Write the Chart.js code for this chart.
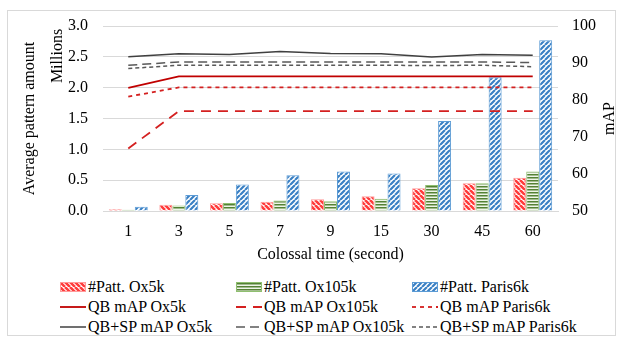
<!doctype html>
<html lang="en">
<head>
  <meta charset="utf-8">
  <title>Colossal time</title>
  <script src="https://cdn.jsdelivr.net/npm/chart.js"></script>
  <style>
    body { margin: 0; background: #fff; font-family: "Liberation Serif", "Times New Roman", serif; }
    #wrap { position: relative; width: 626px; height: 343px; }
    #frame { position: absolute; left: 7px; top: 10px; width: 607px; height: 324px; border: 1px solid #d9d9d9; }
    #chartBox { position: absolute; left: 0; top: 0; width: 626px; height: 272px; }
    .item { position: absolute; height: 20px; display: flex; align-items: center; font-size: 16px; color: #000; white-space: nowrap; }
    .item canvas { margin-right: 2px; }
  </style>
</head>
<body>
<div id="wrap">
  <div id="frame"></div>
  <div id="chartBox"><canvas id="chart"></canvas></div>
  <div id="legend"></div>
</div>

<script>
  // data
  const times = ['1', '3', '5', '7', '9', '15', '30', '45', '60'];
  // average pattern amount (millions)
  const pattOx5k = [0.03, 0.10, 0.125, 0.15, 0.19, 0.24, 0.37, 0.45, 0.54];
  const pattOx105k = [0.02, 0.09, 0.13, 0.17, 0.16, 0.20, 0.42, 0.45, 0.64];
  const pattParis6k = [0.07, 0.26, 0.43, 0.58, 0.64, 0.61, 1.46, 2.17, 2.77];
  // mAP
  const qbOx5k = [83.3, 86.4, 86.4, 86.4, 86.4, 86.4, 86.4, 86.4, 86.4];
  const qbOx105k = [66.9, 77.0, 77.0, 77.0, 77.0, 77.0, 77.0, 77.0, 77.0];
  const qbParis6k = [80.9, 83.4, 83.4, 83.4, 83.4, 83.4, 83.4, 83.4, 83.4];
  const spOx5k = [91.7, 92.5, 92.3, 93.1, 92.6, 92.5, 91.6, 92.3, 92.1];
  const spOx105k = [89.4, 90.3, 90.3, 90.3, 90.3, 90.3, 90.3, 90.3, 90.1];
  const spParis6k = [88.5, 89.4, 89.4, 89.4, 89.4, 89.4, 89.3, 89.4, 89.0];

  const FONT = '"Liberation Serif", "Times New Roman", serif';

  // hatch patterns for the bars
  function hatch(kind, fg, bg, lw) {
    const c = document.createElement('canvas');
    const n = kind === 'h' ? 3 : 5;
    c.width = n; c.height = n;
    const g = c.getContext('2d');
    g.fillStyle = bg;
    g.fillRect(0, 0, n, n);
    if (kind === 'h') {
      g.fillStyle = fg;
      g.fillRect(0, 0, n, 1.5);
    } else {
      g.strokeStyle = fg;
      g.lineWidth = lw;
      g.beginPath();
      for (let k = -1; k <= 1; k++) {
        if (kind === 'b') { // "\" stripes
          g.moveTo(k * n, 0); g.lineTo(k * n + n, n);
        } else {            // "/" stripes
          g.moveTo(k * n, n); g.lineTo(k * n + n, 0);
        }
      }
      g.stroke();
    }
    return document.createElement('canvas').getContext('2d').createPattern(c, 'repeat');
  }

  const redFill = hatch('b', '#ff3b3b', '#ffffff', 2.6);
  const greenFill = hatch('h', '#548235', '#eef5e8');
  const blueFill = hatch('f', '#3a80c4', '#ffffff', 2.2);

  function bar(label, data, fill, border) {
    return {
      type: 'bar', label: label, data: data, yAxisID: 'y', order: 2,
      backgroundColor: fill, borderColor: border, borderWidth: 1,
      categoryPercentage: 0.77, barPercentage: 1.0
    };
  }
  function line(label, data, color, dash, width) {
    return {
      type: 'line', label: label, data: data, yAxisID: 'y1', order: 1,
      borderColor: color, backgroundColor: color, borderDash: dash, borderWidth: width,
      pointRadius: 0, fill: false, tension: 0
    };
  }

  const datasets = [
    bar('#Patt. Ox5k', pattOx5k, redFill, '#ff9a9a'),
    bar('#Patt. Ox105k', pattOx105k, greenFill, '#8fbf6f'),
    bar('#Patt. Paris6k', pattParis6k, blueFill, '#5b9bd5'),
    line('QB mAP Ox5k', qbOx5k, '#c00000', [], 1.8),
    line('QB mAP Ox105k', qbOx105k, '#d42020', [10, 7], 1.8),
    line('QB mAP Paris6k', qbParis6k, '#d42020', [4, 4], 1.8),
    line('QB+SP mAP Ox5k', spOx5k, '#404040', [], 1.5),
    line('QB+SP mAP Ox105k', spOx105k, '#595959', [9, 5], 1.5),
    line('QB+SP mAP Paris6k', spParis6k, '#595959', [4, 3], 1.5)
  ];

  // side labels that Chart.js cannot place the same way
  const sideLabels = {
    id: 'sideLabels',
    afterDraw(chart) {
      const a = chart.chartArea;
      const ctx = chart.ctx;
      ctx.save();
      ctx.font = '16px ' + FONT;
      ctx.fillStyle = '#000';
      ctx.textAlign = 'center';
      ctx.textBaseline = 'middle';
      ctx.translate(a.left - 45, a.top + 30);
      ctx.rotate(-Math.PI / 2);
      ctx.fillText('Millions', 0, 0);
      ctx.restore();
      ctx.save();
      ctx.font = '16px ' + FONT;
      ctx.fillStyle = '#000';
      ctx.textAlign = 'center';
      ctx.textBaseline = 'middle';
      ctx.translate(a.right + 52, (a.top + a.bottom) / 2);
      ctx.rotate(-Math.PI / 2);
      ctx.fillText('mAP', 0, 0);
      ctx.restore();
    }
  };

  new Chart(document.getElementById('chart'), {
    data: { labels: times, datasets: datasets },
    options: {
      responsive: true,
      maintainAspectRatio: false,
      animation: false,
      layout: { padding: { top: 26, bottom: 5, left: 0, right: 0 } },
      plugins: { legend: { display: false }, tooltip: { enabled: false } },
      scales: {
        x: {
          grid: { display: false, drawTicks: false },
          border: { color: '#d9d9d9' },
          ticks: { color: '#000', font: { family: FONT, size: 16 }, padding: 11 },
          title: { display: true, text: 'Colossal time (second)', color: '#000', font: { family: FONT, size: 16 }, padding: { top: 0, bottom: 3 } },
          afterFit(s) { s.height = 56; }
        },
        y: {
          position: 'left', min: 0, max: 3,
          ticks: { stepSize: 0.5, color: '#000', font: { family: FONT, size: 16 }, padding: 15, callback: v => v.toFixed(1) },
          grid: { color: '#d9d9d9', drawTicks: false },
          border: { display: false },
          title: { display: true, text: 'Average pattern amount', color: '#000', font: { family: FONT, size: 16 }, padding: { top: 20, bottom: 0 } },
          afterFit(s) { s.width = 103; }
        },
        y1: {
          position: 'right', min: 50, max: 100,
          ticks: { stepSize: 10, color: '#000', font: { family: FONT, size: 16 }, padding: 14 },
          grid: { display: false, drawTicks: false },
          border: { display: false },
          afterFit(s) { s.width = 68; }
        }
      }
    },
    plugins: [sideLabels]
  });

  // legend in three columns
  const cols = [60, 236, 412];
  const rows = [287, 307, 327];
  const legend = document.getElementById('legend');
  datasets.forEach(function (ds, i) {
    const item = document.createElement('div');
    item.className = 'item';
    item.style.left = cols[i % 3] + 'px';
    item.style.top = (rows[Math.floor(i / 3)] - 10) + 'px';
    const sw = document.createElement('canvas');
    sw.width = 26; sw.height = 20;
    const g = sw.getContext('2d');
    if (ds.type === 'bar') {
      g.fillStyle = ds.backgroundColor;
      g.fillRect(0, 5, 26, 10);
      g.strokeStyle = ds.borderColor;
      g.lineWidth = 1;
      g.strokeRect(0.5, 5.5, 25, 9);
    } else {
      g.strokeStyle = ds.borderColor;
      g.lineWidth = ds.borderWidth;
      g.setLineDash(ds.borderDash);
      g.beginPath();
      g.moveTo(0, 10); g.lineTo(26, 10);
      g.stroke();
    }
    const t = document.createElement('span');
    t.textContent = ds.label;
    item.appendChild(sw);
    item.appendChild(t);
    legend.appendChild(item);
  });
</script>
</body>
</html>
